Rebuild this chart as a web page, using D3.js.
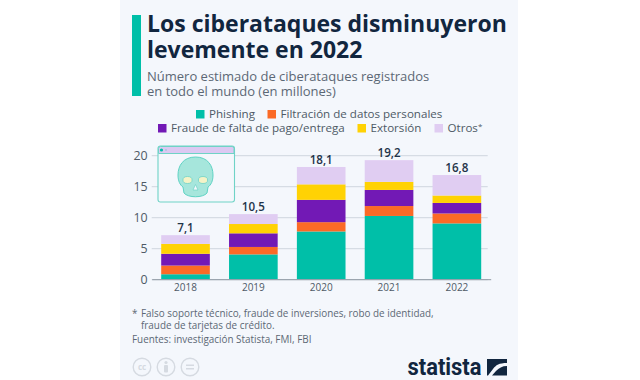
<!DOCTYPE html>
<html>
<head>
<meta charset="utf-8">
<script src="https://cdn.jsdelivr.net/npm/d3@7"></script>
<style>
html, body { margin: 0; padding: 0; background: #fff; }
text { font-family: "Open Sans", sans-serif; }
</style>
</head>
<body>
<div id="chart"></div>
<script>
const width = 640
const height = 380

const years = ["2018", "2019", "2020", "2021", "2022"]
const phishing = [0.8, 4.0, 7.7, 10.2, 9.0]
const filtracion = [1.4, 1.2, 1.5, 1.6, 1.6]
const fraude = [1.9, 2.2, 3.6, 2.6, 1.7]
const extorsion = [1.6, 1.5, 2.5, 1.3, 1.2]
const otros = [1.4, 1.6, 2.8, 3.5, 3.3]
const totals = ["7,1", "10,5", "18,1", "19,2", "16,8"]
const yTicks = [0, 5, 10, 15, 20]

const seriesNames = ["Phishing", "Filtración de datos personales", "Fraude de falta de pago/entrega", "Extorsión", "Otros"]
const seriesColors = ["#00bfa8", "#fb6a26", "#7219b5", "#ffd204", "#e0cdf2"]

const svg = d3.select("#chart").append("svg").attr("width", width).attr("height", height).style("display", "block")

// panel
svg.append("rect").attr("x", 120).attr("y", 0).attr("width", 398).attr("height", height).attr("fill", "#f4f7fc")

// header
svg.append("rect").attr("x", 132).attr("y", 15).attr("width", 9).attr("height", 81).attr("fill", "#00bfa8")
const titleGroup = svg.append("g").attr("fill", "#11263f").attr("font-weight", 700).attr("font-size", 23)
titleGroup.append("text").attr("x", 147).attr("y", 32).text("Los ciberataques disminuyeron")
titleGroup.append("text").attr("x", 147).attr("y", 57.5).text("levemente en 2022")
const subGroup = svg.append("g").attr("fill", "#5c6875").attr("font-size", 13)
subGroup.append("text").attr("x", 147).attr("y", 80.5).text("Número estimado de ciberataques registrados")
subGroup.append("text").attr("x", 147).attr("y", 96).text("en todo el mundo (en millones)")

// legend
const legendPos = [[196, 109], [267.5, 109], [158, 123], [357.5, 123], [434.5, 123]]
const legend = svg.append("g").selectAll("g").data(seriesNames).join("g")
    .attr("transform", (d, i) => `translate(${legendPos[i][0]}, ${legendPos[i][1]})`)
legend.append("rect").attr("y", 1).attr("width", 8.5).attr("height", 8.5).attr("fill", (d, i) => seriesColors[i])
const legendText = legend.append("text").attr("x", 13).attr("y", 9).attr("font-size", 11.6).attr("fill", "#4e5a66").text(d => d)
legendText.filter(d => d == "Otros").append("tspan").attr("font-size", 8).attr("dy", -3).text("*")

// chart
const x = d3.scaleBand().domain(years).range([151.7, 490.7]).paddingInner(0.283).paddingOuter(0.14)
const y = d3.scaleLinear().domain([0, 20]).range([279.2, 155.2])

const yAxis = d3.axisLeft(y).tickValues(yTicks).tickSize(-336).tickPadding(4)
const yAxisGroup = svg.append("g").attr("transform", "translate(151.7, 0)").call(yAxis)
yAxisGroup.select(".domain").remove()
yAxisGroup.selectAll("line").attr("stroke", "#cfd5de")
yAxisGroup.selectAll("text").attr("font-size", 12.4).attr("fill", "#4e5a66").style("font-family", "'Open Sans', sans-serif")

const stacked = d3.stack().keys(d3.range(5)).value((d, k) => d[k])(years.map((d, i) => [phishing[i], filtracion[i], fraude[i], extorsion[i], otros[i]]))

svg.append("g").selectAll("g").data(stacked).join("g")
    .attr("fill", (d, i) => seriesColors[i])
    .selectAll("rect").data(d => d).join("rect")
    .attr("x", (d, i) => x(years[i]))
    .attr("y", d => y(d[1]))
    .attr("width", x.bandwidth())
    .attr("height", d => y(d[0]) - y(d[1]))

const xAxis = d3.axisBottom(x).tickSize(0).tickPadding(5)
const xAxisGroup = svg.append("g").attr("transform", "translate(0, 279.2)").call(xAxis)
xAxisGroup.select(".domain").attr("stroke", "#8f98a3")
xAxisGroup.selectAll("text").attr("font-size", 10).attr("fill", "#4e5a66").style("font-family", "'Open Sans', sans-serif")

svg.append("g").selectAll("text").data(totals).join("text")
    .attr("x", (d, i) => x(years[i]) + x.bandwidth() / 2)
    .attr("y", (d, i) => y(stacked[4][i][1]) - 3)
    .attr("text-anchor", "middle").attr("font-size", 11.6).attr("font-weight", 600).attr("fill", "#1f3349")
    .text(d => d)

// skull window
const icon = svg.append("g").attr("transform", "translate(158, 146)")
icon.append("rect").attr("width", 76.5).attr("height", 56).attr("rx", 2.5).attr("fill", "#f4f7fc").attr("stroke", "#6fd3c6").attr("stroke-width", 1.1)
icon.append("path").attr("d", "M0.5 7.5V2.5a2 2 0 0 1 2-2H74a2 2 0 0 1 2 2V7.5Z").attr("fill", "#dcc9f2").attr("stroke", "#6fd3c6")
icon.append("circle").attr("cx", 3.5).attr("cy", 4).attr("r", 1.6).attr("fill", "#00bfa8")
icon.append("circle").attr("cx", 8).attr("cy", 4).attr("r", 1).attr("fill", "#a9c8de")
icon.append("path").attr("d", "M37.5 11C25 11 20 20 20 29C20 35 22 39 25 41L26 47C30 52 45 52 49 47L50 41C53 39 55 35 55 29C55 20 50 11 37.5 11Z")
    .attr("fill", "#a6e6dc").attr("stroke", "#5fd3c4")
icon.append("ellipse").attr("cx", 29.5).attr("cy", 34).attr("rx", 4.6).attr("ry", 3.5).attr("fill", "#f4f3c8").attr("stroke", "#6fd3c6").attr("stroke-width", 0.8)
icon.append("ellipse").attr("cx", 45).attr("cy", 34).attr("rx", 4.6).attr("ry", 3.5).attr("fill", "#f4f3c8").attr("stroke", "#6fd3c6").attr("stroke-width", 0.8)
icon.append("path").attr("d", "M37.5 38.5L40 44H35Z").attr("fill", "#f4f7fc").attr("stroke", "#6fd3c6").attr("stroke-width", 0.7)

// notes
const notes = svg.append("g").attr("fill", "#5c6875").attr("font-size", 9.9)
notes.append("text").attr("x", 132).attr("y", 316.5).text("*")
notes.append("text").attr("x", 141).attr("y", 316.5).text("Falso soporte técnico, fraude de inversiones, robo de identidad,")
notes.append("text").attr("x", 141).attr("y", 328.5).text("fraude de tarjetas de crédito.")
notes.append("text").attr("x", 132).attr("y", 343).text("Fuentes: investigación Statista, FMI, FBI")

// cc icons
const cc = svg.append("g").attr("fill", "none").attr("stroke", "#d5dae1").attr("stroke-width", 1.4)
const ccX = [142, 166, 190]
cc.selectAll("circle").data(ccX).join("circle").attr("cx", d => d).attr("cy", 367).attr("r", 8.8)
svg.append("text").attr("x", 142).attr("y", 370).attr("text-anchor", "middle").attr("font-size", 8).attr("font-weight", 700).attr("fill", "#d5dae1").text("cc")
svg.append("circle").attr("cx", 166).attr("cy", 362.5).attr("r", 1.6).attr("fill", "#d5dae1")
svg.append("rect").attr("x", 164).attr("y", 365).attr("width", 4).attr("height", 7.5).attr("rx", 1).attr("fill", "#d5dae1")
svg.append("rect").attr("x", 186).attr("y", 364.5).attr("width", 8).attr("height", 1.5).attr("fill", "#d5dae1")
svg.append("rect").attr("x", 186).attr("y", 368).attr("width", 8).attr("height", 1.5).attr("fill", "#d5dae1")

// logo
svg.append("text").attr("x", 407.5).attr("y", 375).style("font-family", "Roboto, sans-serif")
    .attr("font-size", 23.8).attr("font-weight", 700).attr("fill", "#11263f").attr("textLength", 74).attr("lengthAdjust", "spacingAndGlyphs").text("statista")
svg.append("path").attr("d", "M487 359H507V363C499 363 496 365 493 369L488 375.5H487ZM507 366V375.5H492L496 371C499 368 502 366 507 366Z").attr("fill", "#11263f")
</script>
</body>
</html>
